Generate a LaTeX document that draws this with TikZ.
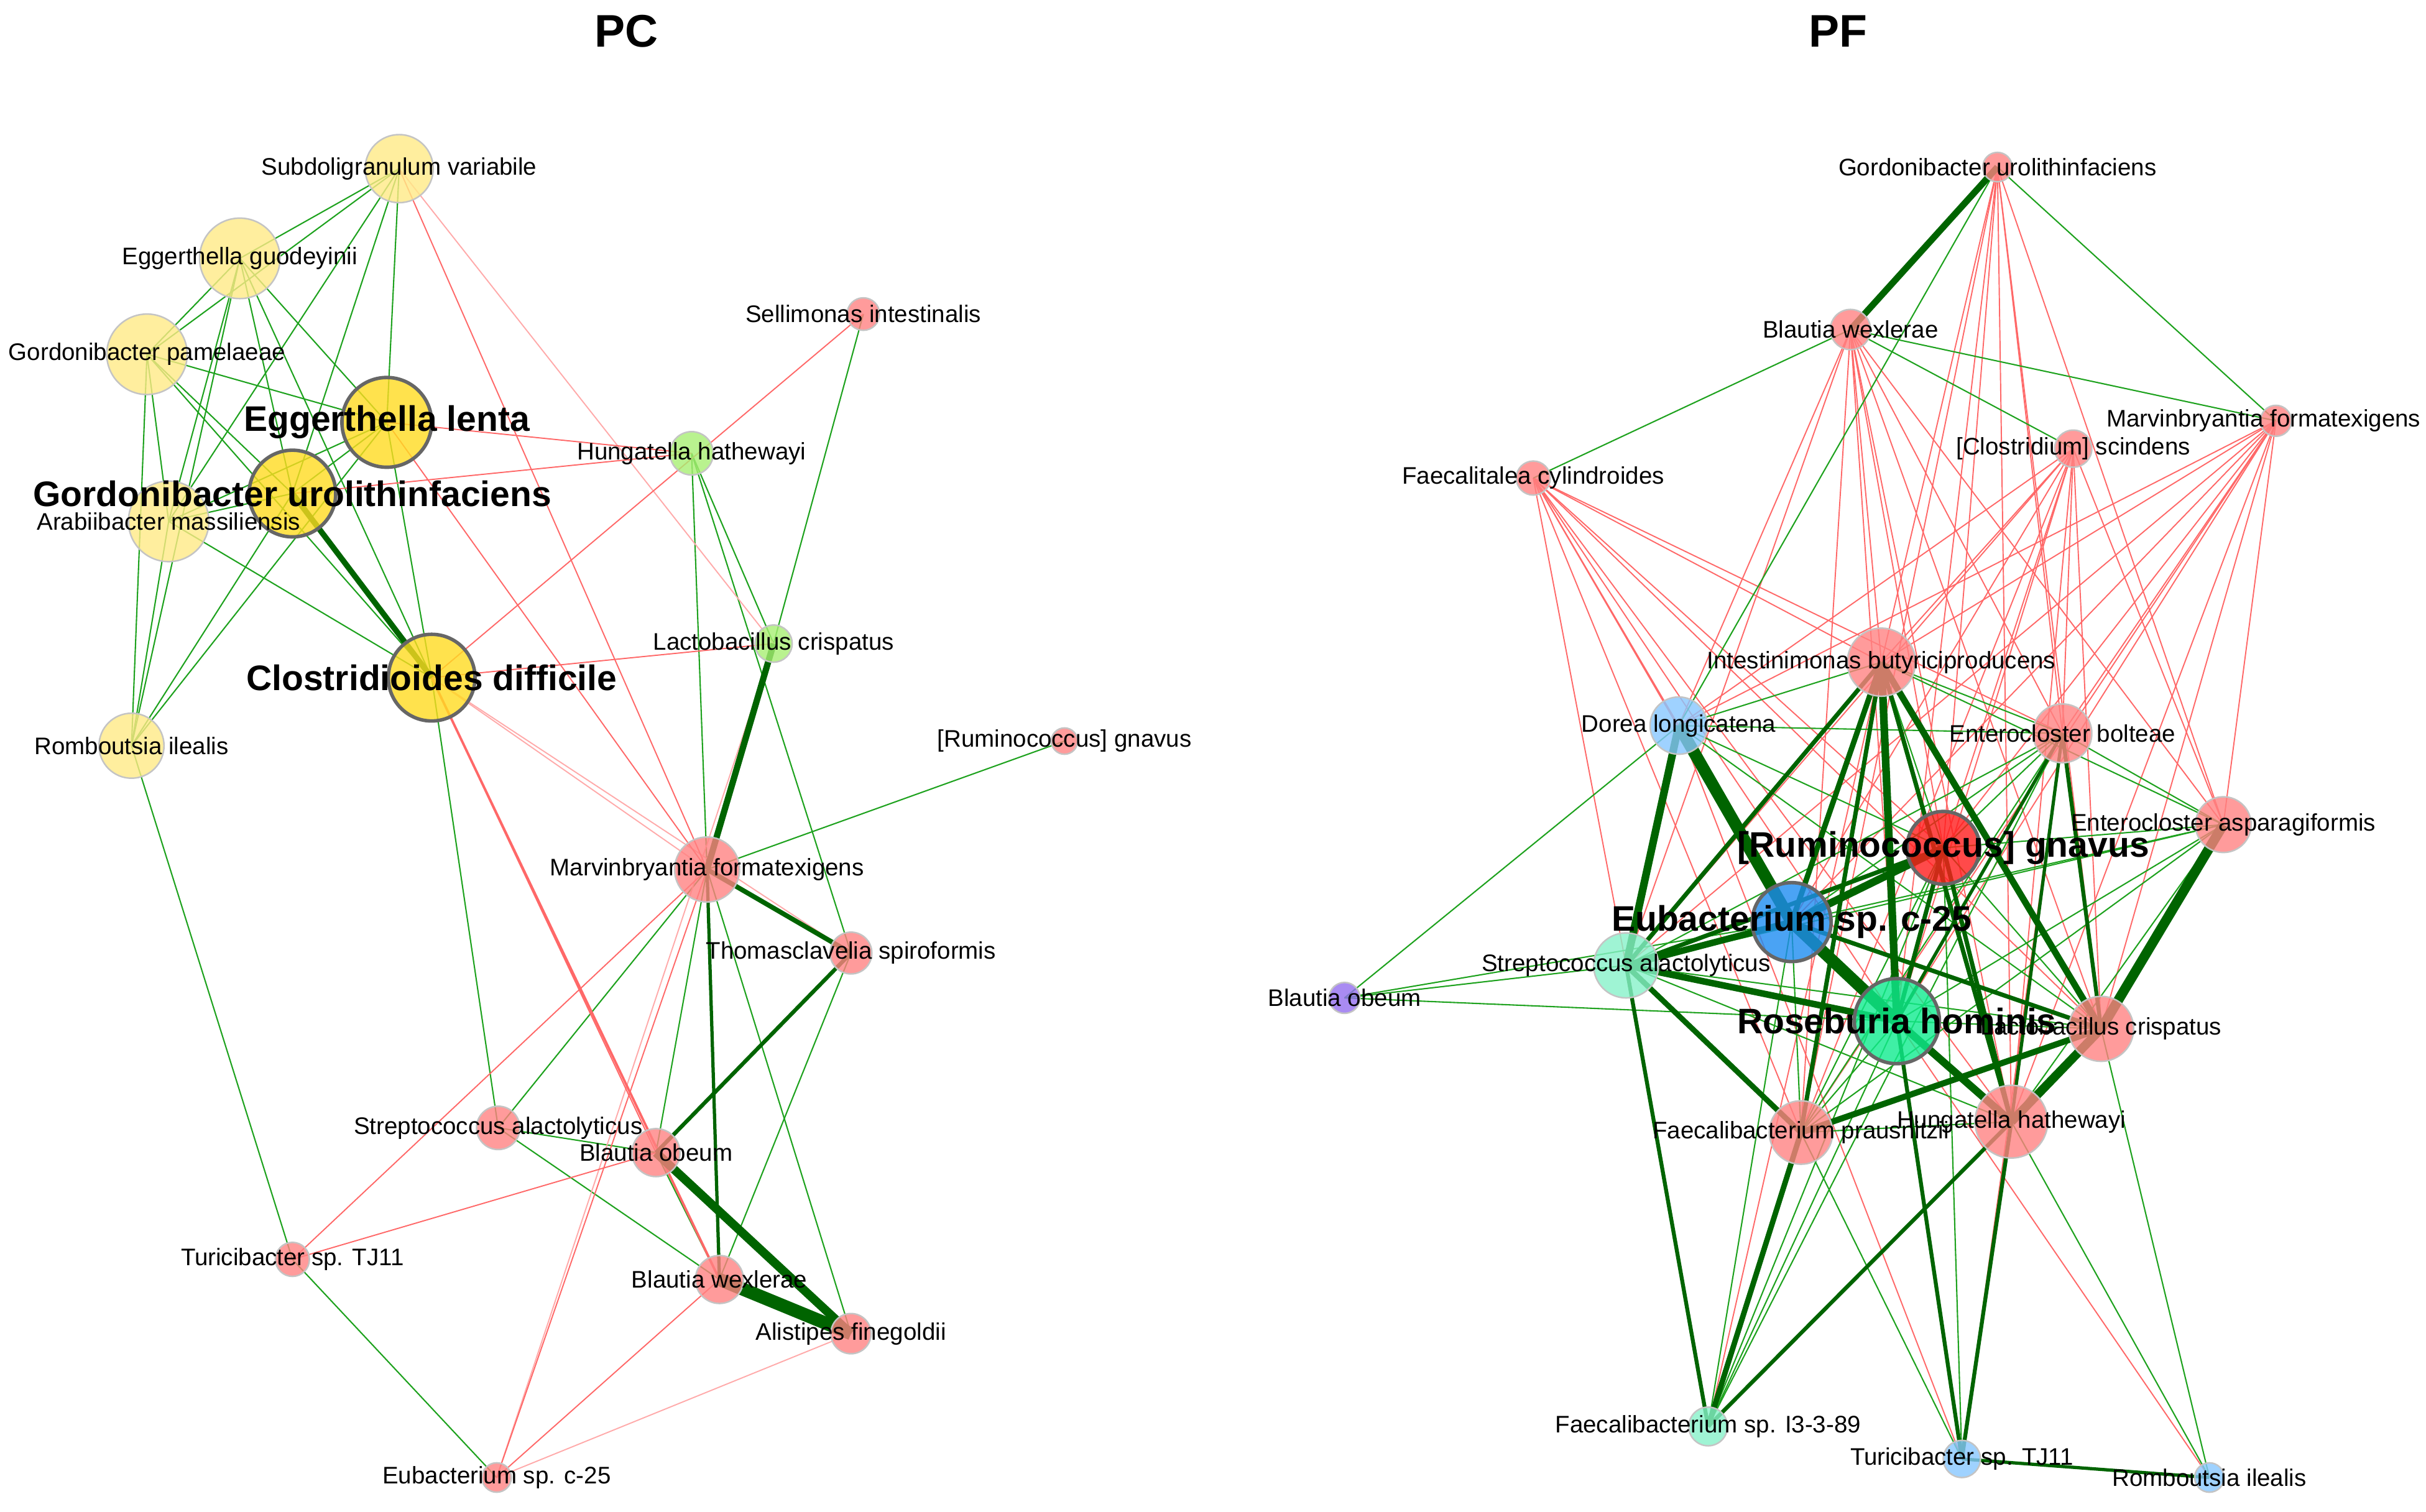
\documentclass[tikz,border=0pt]{standalone}
\usepackage{fontspec}
\setmainfont{Liberation Sans}
\usetikzlibrary{backgrounds}
\definecolor{nline}{HTML}{C4C4C4}
\definecolor{hline}{HTML}{666666}
\definecolor{ylight}{HTML}{FFEA86}
\definecolor{ydark}{HTML}{FFDB21}
\definecolor{glight}{HTML}{A8EF73}
\definecolor{pink}{HTML}{FF8282}
\definecolor{blight}{HTML}{88C7FF}
\definecolor{bdark}{HTML}{1D8CF2}
\definecolor{mint}{HTML}{88F2CA}
\definecolor{gdark}{HTML}{10EC8F}
\definecolor{rdark}{HTML}{FF1D1D}
\definecolor{purp}{HTML}{946FEF}
\definecolor{pgreen}{HTML}{1EA21E}
\definecolor{dgreen}{HTML}{006400}
\definecolor{nred}{HTML}{FF6868}
\definecolor{nfaint}{HTML}{FFAAAA}

\begin{document}
\begin{tikzpicture}[x=0.025cm, y=-0.025cm]
\tikzstyle{every node}=[inner sep=0pt]
\tikzstyle{sp}=[circle, draw=nline, line width=0.7pt, fill opacity=0.8]
\tikzstyle{hub}=[circle, draw=hline, line width=1.6pt, fill opacity=0.8]
\tikzstyle{lbl}=[font=\fontsize{11}{13}\selectfont]
\tikzstyle{blbl}=[font=\fontsize{16.3}{19}\selectfont\bfseries]
\tikzstyle{ttl}=[font=\fontsize{21}{25}\selectfont\bfseries]
\tikzstyle{pe}=[draw=pgreen, line width=0.6pt]
\tikzstyle{pk}=[draw=dgreen]
\tikzstyle{ne}=[draw=nred, line width=0.55pt]
\tikzstyle{nf}=[draw=nfaint, line width=0.55pt]
\useasboundingbox (0,0) rectangle (1568,977);

% titles
\draw (405,20) node (tPC) [ttl] {PC};
\draw (1188,20) node (tPF) [ttl] {PF};

% PC nodes
\draw (258,109) node (sub) [sp,fill=ylight,minimum size=1.1cm] {};
\draw (155,167) node (egu) [sp,fill=ylight,minimum size=1.3cm] {};
\draw (95,229) node (gpa) [sp,fill=ylight,minimum size=1.3cm] {};
\draw (109,337) node (ara) [sp,fill=ylight,minimum size=1.3cm] {};
\draw (85,482) node (rom) [sp,fill=ylight,minimum size=1.05cm] {};
\draw (250,273) node (egl) [hub,fill=ydark,minimum size=1.45cm] {};
\draw (189,319) node (gur) [hub,fill=ydark,minimum size=1.4cm] {};
\draw (279,438) node (cdi) [hub,fill=ydark,minimum size=1.4cm] {};
\draw (447,293) node (hun) [sp,fill=glight,minimum size=0.7cm] {};
\draw (500,416) node (lac) [sp,fill=glight,minimum size=0.6cm] {};
\draw (558,203) node (sel) [sp,fill=pink,minimum size=0.525cm] {};
\draw (688,479) node (rgn) [sp,fill=pink,minimum size=0.425cm] {};
\draw (457,562) node (mar) [sp,fill=pink,minimum size=1.05cm] {};
\draw (550,616) node (tho) [sp,fill=pink,minimum size=0.675cm] {};
\draw (322,729) node (str) [sp,fill=pink,minimum size=0.7cm] {};
\draw (424,745) node (bob) [sp,fill=pink,minimum size=0.775cm] {};
\draw (189,814) node (tur) [sp,fill=pink,minimum size=0.55cm] {};
\draw (465,827) node (bwe) [sp,fill=pink,minimum size=0.775cm] {};
\draw (550,862) node (ali) [sp,fill=pink,minimum size=0.65cm] {};
\draw (321,955) node (eub) [sp,fill=pink,minimum size=0.475cm] {};

% PF nodes
\draw (1291,108) node (gurF) [sp,fill=pink,minimum size=0.475cm] {};
\draw (1196,213) node (bweF) [sp,fill=pink,minimum size=0.65cm] {};
\draw (1471,272) node (marF) [sp,fill=pink,minimum size=0.5cm] {};
\draw (1340,290) node (cscF) [sp,fill=pink,minimum size=0.6cm] {};
\draw (991,309) node (fcyF) [sp,fill=pink,minimum size=0.55cm] {};
\draw (1216,428) node (intF) [sp,fill=pink,minimum size=1.1cm] {};
\draw (1085,469) node (dorF) [sp,fill=blight,minimum size=0.925cm] {};
\draw (1333,474) node (eboF) [sp,fill=pink,minimum size=0.95cm] {};
\draw (1437,533) node (easF) [sp,fill=pink,minimum size=0.9cm] {};
\draw (1256,548) node (rgnF) [hub,fill=rdark,minimum size=1.175cm] {};
\draw (1158,596) node (eubF) [hub,fill=bdark,minimum size=1.275cm] {};
\draw (1051,624) node (strF) [sp,fill=mint,minimum size=1.05cm] {};
\draw (869,645) node (bobF) [sp,fill=purp,minimum size=0.5cm] {};
\draw (1226,660) node (rosF) [hub,fill=gdark,minimum size=1.375cm] {};
\draw (1358,665) node (lacF) [sp,fill=pink,minimum size=1.05cm] {};
\draw (1164,732) node (fprF) [sp,fill=pink,minimum size=1.025cm] {};
\draw (1300,725) node (hunF) [sp,fill=pink,minimum size=1.175cm] {};
\draw (1104,922) node (fspF) [sp,fill=mint,minimum size=0.625cm] {};
\draw (1268,943) node (turF) [sp,fill=blight,minimum size=0.6cm] {};
\draw (1428,955) node (romF) [sp,fill=blight,minimum size=0.475cm] {};

% labels
\begin{scope}
\clip (0,0) rectangle (1568,977);
\draw (sub) node (subL) [lbl] {Subdoligranulum variabile};
\draw (egu) node (eguL) [lbl] {Eggerthella guodeyinii};
\draw (gpa) node (gpaL) [lbl] {Gordonibacter pamelaeae};
\draw (ara) node (araL) [lbl] {Arabiibacter massiliensis};
\draw (rom) node (romL) [lbl] {Romboutsia ilealis};
\draw (egl) node (eglL) [blbl] {Eggerthella lenta};
\draw (gur) node (gurL) [blbl] {Gordonibacter urolithinfaciens};
\draw (cdi) node (cdiL) [blbl] {Clostridioides difficile};
\draw (hun) node (hunL) [lbl] {Hungatella hathewayi};
\draw (lac) node (lacL) [lbl] {Lactobacillus crispatus};
\draw (sel) node (selL) [lbl] {Sellimonas intestinalis};
\draw (rgn) node (rgnL) [lbl] {[Ruminococcus] gnavus};
\draw (mar) node (marL) [lbl] {Marvinbryantia formatexigens};
\draw (tho) node (thoL) [lbl] {Thomasclavelia spiroformis};
\draw (str) node (strL) [lbl] {Streptococcus alactolyticus};
\draw (bob) node (bobL) [lbl] {Blautia obeum};
\draw (tur) node (turL) [lbl] {Turicibacter sp. TJ11};
\draw (bwe) node (bweL) [lbl] {Blautia wexlerae};
\draw (ali) node (aliL) [lbl] {Alistipes finegoldii};
\draw (eub) node (eubL) [lbl] {Eubacterium sp. c-25};
\draw (gurF) node (gurFL) [lbl] {Gordonibacter urolithinfaciens};
\draw (bweF) node (bweFL) [lbl] {Blautia wexlerae};
\draw ([xshift=-0.2cm]marF) node (marFL) [lbl] {Marvinbryantia formatexigens};
\draw (cscF) node (cscFL) [lbl] {[Clostridium] scindens};
\draw (fcyF) node (fcyFL) [lbl] {Faecalitalea cylindroides};
\draw (intF) node (intFL) [lbl] {Intestinimonas butyriciproducens};
\draw (dorF) node (dorFL) [lbl] {Dorea longicatena};
\draw (eboF) node (eboFL) [lbl] {Enterocloster bolteae};
\draw (easF) node (easFL) [lbl] {Enterocloster asparagiformis};
\draw (strF) node (strFL) [lbl] {Streptococcus alactolyticus};
\draw (bobF) node (bobFL) [lbl] {Blautia obeum};
\draw (lacF) node (lacFL) [lbl] {Lactobacillus crispatus};
\draw (fprF) node (fprFL) [lbl] {Faecalibacterium prausnitzii};
\draw (hunF) node (hunFL) [lbl] {Hungatella hathewayi};
\draw (fspF) node (fspFL) [lbl] {Faecalibacterium sp. I3-3-89};
\draw (turF) node (turFL) [lbl] {Turicibacter sp. TJ11};
\draw (romF) node (romFL) [lbl] {Romboutsia ilealis};
\draw (rgnF) node (rgnFL) [blbl] {[Ruminococcus] gnavus};
\draw (eubF) node (eubFL) [blbl] {Eubacterium sp. c-25};
\draw (rosF) node (rosFL) [blbl] {Roseburia hominis};
\end{scope}

\begin{pgfonlayer}{background}
\fill[white] (0,0) rectangle (1568,977);
% PC edges
\draw[pe] (sub.center) -- (egu.center);
\draw[pe] (sub.center) -- (gpa.center);
\draw[pe] (sub.center) -- (ara.center);
\draw[pe] (sub.center) -- (gur.center);
\draw[pe] (sub.center) -- (egl.center);
\draw[pe] (egu.center) -- (gpa.center);
\draw[pe] (egu.center) -- (ara.center);
\draw[pe] (egu.center) -- (gur.center);
\draw[pe] (egu.center) -- (cdi.center);
\draw[pe] (egu.center) -- (egl.center);
\draw[pe] (egu.center) -- (rom.center);
\draw[pe] (gpa.center) -- (egl.center);
\draw[pe] (gpa.center) -- (gur.center);
\draw[pe] (gpa.center) -- (cdi.center);
\draw[pe] (gpa.center) -- (ara.center);
\draw[pe] (gpa.center) -- (rom.center);
\draw[pe] (egl.center) -- (gur.center);
\draw[pe] (egl.center) -- (cdi.center);
\draw[pe] (egl.center) -- (ara.center);
\draw[pe] (egl.center) -- (rom.center);
\draw[pe] (gur.center) -- (ara.center);
\draw[pe] (gur.center) -- (rom.center);
\draw[pe] (ara.center) -- (cdi.center);
\draw[pe] (ara.center) -- (rom.center);
\draw[pe] (rom.center) -- (tur.center);
\draw[pe] (cdi.center) -- (str.center);
\draw[pe] (hun.center) -- (mar.center);
\draw[pe] (hun.center) -- (lac.center);
\draw[pe] (hun.center) -- (tho.center);
\draw[pe] (sel.center) -- (lac.center);
\draw[pe] (mar.center) -- (rgn.center);
\draw[pe] (mar.center) -- (ali.center);
\draw[pe] (mar.center) -- (bob.center);
\draw[pe] (mar.center) -- (str.center);
\draw[pe] (tho.center) -- (bwe.center);
\draw[pe] (bob.center) -- (str.center);
\draw[pe] (bob.center) -- (bwe.center);
\draw[pe] (bwe.center) -- (str.center);
\draw[pe] (tur.center) -- (eub.center);
\draw[nf] (sub.center) -- (lac.center);
\draw[nf] (cdi.center) -- (mar.center);
\draw[nf] (cdi.center) -- (tho.center);
\draw[nf] (lac.center) -- (eub.center);
\draw[nf] (ali.center) -- (eub.center);
\draw[ne] (sub.center) -- (mar.center);
\draw[ne] (egl.center) -- (mar.center);
\draw[ne] (egl.center) -- (hun.center);
\draw[ne] (gur.center) -- (hun.center);
\draw[ne] (sel.center) -- (cdi.center);
\draw[ne] (cdi.center) -- (lac.center);
\draw[ne, line width=1.1pt] (cdi.center) -- (bwe.center);
\draw[ne] (cdi.center) -- (bob.center);
\draw[ne] (mar.center) -- (tur.center);
\draw[ne] (tur.center) -- (bob.center);
\draw[ne] (bwe.center) -- (eub.center);
\draw[ne] (eub.center) -- (mar.center);
\draw[pk, line width=2.6pt] (gur.center) -- (cdi.center);
\draw[pk, line width=2.9pt] (mar.center) -- (lac.center);
\draw[pk, line width=2.2pt] (mar.center) -- (tho.center);
\draw[pk, line width=1.8pt] (tho.center) -- (bob.center);
\draw[pk, line width=1.5pt] (mar.center) -- (bwe.center);
\draw[pk, line width=4pt] (bob.center) -- (ali.center);
\draw[pk, line width=6pt] (bwe.center) -- (ali.center);

% PF edges
\draw[ne] (gurF.center) -- (intF.center);
\draw[ne] (gurF.center) -- (rgnF.center);
\draw[ne] (gurF.center) -- (eboF.center);
\draw[ne] (gurF.center) -- (easF.center);
\draw[ne] (gurF.center) -- (lacF.center);
\draw[ne] (gurF.center) -- (hunF.center);
\draw[ne] (gurF.center) -- (rosF.center);
\draw[ne] (gurF.center) -- (fprF.center);
\draw[ne] (bweF.center) -- (intF.center);
\draw[ne] (bweF.center) -- (eboF.center);
\draw[ne] (bweF.center) -- (easF.center);
\draw[ne] (bweF.center) -- (rgnF.center);
\draw[ne] (bweF.center) -- (lacF.center);
\draw[ne] (bweF.center) -- (hunF.center);
\draw[ne] (bweF.center) -- (fprF.center);
\draw[ne] (bweF.center) -- (rosF.center);
\draw[ne] (bweF.center) -- (dorF.center);
\draw[ne] (bweF.center) -- (strF.center);
\draw[ne] (cscF.center) -- (dorF.center);
\draw[ne] (cscF.center) -- (intF.center);
\draw[ne] (cscF.center) -- (eboF.center);
\draw[ne] (cscF.center) -- (rgnF.center);
\draw[ne] (cscF.center) -- (eubF.center);
\draw[ne] (cscF.center) -- (rosF.center);
\draw[ne] (cscF.center) -- (lacF.center);
\draw[ne] (cscF.center) -- (hunF.center);
\draw[ne] (cscF.center) -- (fprF.center);
\draw[ne] (cscF.center) -- (strF.center);
\draw[ne] (cscF.center) -- (easF.center);
\draw[ne] (marF.center) -- (intF.center);
\draw[ne] (marF.center) -- (dorF.center);
\draw[ne] (marF.center) -- (eboF.center);
\draw[ne] (marF.center) -- (rgnF.center);
\draw[ne] (marF.center) -- (eubF.center);
\draw[ne] (marF.center) -- (rosF.center);
\draw[ne] (marF.center) -- (lacF.center);
\draw[ne] (marF.center) -- (hunF.center);
\draw[ne] (marF.center) -- (fprF.center);
\draw[ne] (marF.center) -- (easF.center);
\draw[ne] (marF.center) -- (strF.center);
\draw[ne] (fcyF.center) -- (dorF.center);
\draw[ne] (fcyF.center) -- (strF.center);
\draw[ne] (fcyF.center) -- (eubF.center);
\draw[ne] (fcyF.center) -- (rosF.center);
\draw[ne] (fcyF.center) -- (rgnF.center);
\draw[ne] (fcyF.center) -- (intF.center);
\draw[ne] (fcyF.center) -- (eboF.center);
\draw[ne] (fcyF.center) -- (hunF.center);
\draw[ne] (fcyF.center) -- (fprF.center);
\draw[ne] (fcyF.center) -- (lacF.center);
\draw[ne] (dorF.center) -- (turF.center);
\draw[ne] (rosF.center) -- (romF.center);
\draw[ne] (intF.center) -- (fspF.center);
\draw[ne] (eboF.center) -- (turF.center);
\draw[pe] (gurF.center) -- (marF.center);
\draw[pe] (gurF.center) -- (dorF.center);
\draw[pe] (bweF.center) -- (fcyF.center);
\draw[pe] (bweF.center) -- (marF.center);
\draw[pe] (bweF.center) -- (cscF.center);
\draw[pe] (dorF.center) -- (bobF.center);
\draw[pe] (dorF.center) -- (intF.center);
\draw[pe] (dorF.center) -- (eboF.center);
\draw[pe] (dorF.center) -- (lacF.center);
\draw[pe] (dorF.center) -- (rgnF.center);
\draw[pe] (bobF.center) -- (strF.center);
\draw[pe] (bobF.center) -- (eubF.center);
\draw[pe] (bobF.center) -- (rosF.center);
\draw[pe] (strF.center) -- (eboF.center);
\draw[pe] (strF.center) -- (easF.center);
\draw[pe] (strF.center) -- (lacF.center);
\draw[pe] (strF.center) -- (hunF.center);
\draw[pe] (eubF.center) -- (eboF.center);
\draw[pe] (eubF.center) -- (easF.center);
\draw[pe] (eubF.center) -- (fprF.center);
\draw[pe] (eubF.center) -- (hunF.center);
\draw[pe] (eubF.center) -- (fspF.center);
\draw[pe] (rgnF.center) -- (eboF.center);
\draw[pe] (rgnF.center) -- (easF.center);
\draw[pe] (rgnF.center) -- (lacF.center);
\draw[pe] (rgnF.center) -- (fprF.center);
\draw[pe] (rgnF.center) -- (turF.center);
\draw[pe] (rgnF.center) -- (fspF.center);
\draw[pe] (rosF.center) -- (eboF.center);
\draw[pe] (rosF.center) -- (easF.center);
\draw[pe] (rosF.center) -- (fprF.center);
\draw[pe] (rosF.center) -- (fspF.center);
\draw[pe] (rosF.center) -- (lacF.center);
\draw[pe] (eboF.center) -- (easF.center);
\draw[pe] (eboF.center) -- (fprF.center);
\draw[pe] (eboF.center) -- (intF.center);
\draw[pe] (eboF.center) -- (fspF.center);
\draw[pe] (easF.center) -- (fprF.center);
\draw[pe] (easF.center) -- (hunF.center);
\draw[pe] (intF.center) -- (easF.center);
\draw[pe] (intF.center) -- (rgnF.center);
\draw[pe] (lacF.center) -- (romF.center);
\draw[pe] (hunF.center) -- (romF.center);
\draw[pe] (fprF.center) -- (hunF.center);
\draw[pe] (fprF.center) -- (turF.center);
\draw[pk, line width=3pt] (gurF.center) -- (bweF.center);
\draw[pk, line width=5.5pt] (dorF.center) -- (eubF.center);
\draw[pk, line width=5.5pt] (eubF.center) -- (rosF.center);
\draw[pk, line width=3.5pt] (dorF.center) -- (strF.center);
\draw[pk, line width=4.5pt] (lacF.center) -- (easF.center);
\draw[pk, line width=4pt] (lacF.center) -- (hunF.center);
\draw[pk, line width=3.5pt] (intF.center) -- (rosF.center);
\draw[pk, line width=2pt] (intF.center) -- (hunF.center);
\draw[pk, line width=3.5pt] (eubF.center) -- (rgnF.center);
\draw[pk, line width=3pt] (strF.center) -- (rosF.center);
\draw[pk, line width=3pt] (eubF.center) -- (strF.center);
\draw[pk, line width=2.5pt] (strF.center) -- (fprF.center);
\draw[pk, line width=2.5pt] (fprF.center) -- (fspF.center);
\draw[pk, line width=2.8pt] (lacF.center) -- (fprF.center);
\draw[pk, line width=3.5pt] (rosF.center) -- (hunF.center);
\draw[pk, line width=2.5pt] (intF.center) -- (eubF.center);
\draw[pk, line width=2pt] (intF.center) -- (strF.center);
\draw[pk, line width=1.8pt] (strF.center) -- (fspF.center);
\draw[pk, line width=1.8pt] (hunF.center) -- (fspF.center);
\draw[pk, line width=1.8pt] (hunF.center) -- (turF.center);
\draw[pk, line width=1.8pt] (rosF.center) -- (turF.center);
\draw[pk, line width=1.5pt] (turF.center) -- (romF.center);
\draw[pk, line width=2pt] (eubF.center) -- (lacF.center);
\draw[pk, line width=2pt] (rgnF.center) -- (rosF.center);
\draw[pk, line width=3pt] (intF.center) -- (lacF.center);
\draw[pk, line width=2pt] (rgnF.center) -- (hunF.center);
\draw[pk, line width=1.5pt] (eboF.center) -- (hunF.center);
\draw[pk, line width=1.8pt] (eboF.center) -- (lacF.center);
\draw[pk, line width=1.5pt] (eboF.center) -- (rosF.center);
\draw[pk, line width=2pt] (intF.center) -- (fprF.center);
\draw[pk, line width=2pt] (strF.center) -- (rgnF.center);
\end{pgfonlayer}
\end{tikzpicture}
\end{document}
